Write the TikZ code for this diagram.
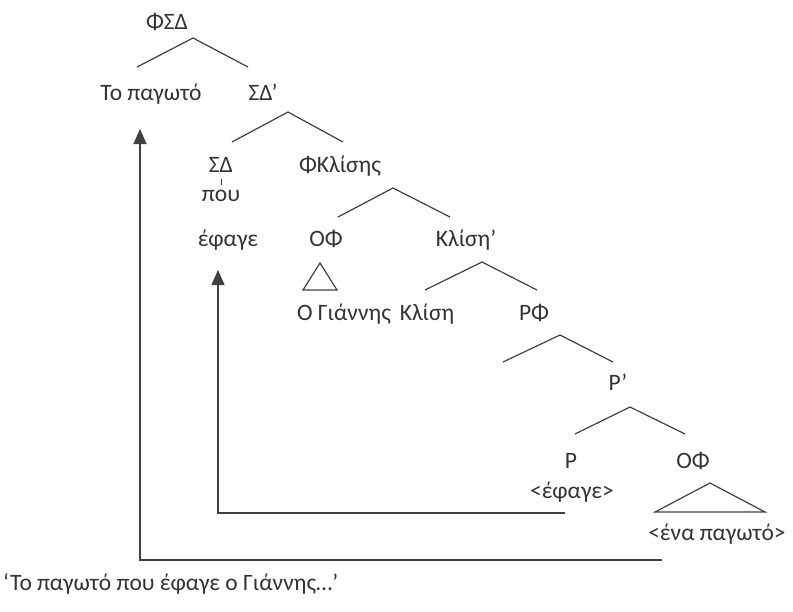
\documentclass[tikz,border=0pt]{standalone}
\usepackage{fontspec}
\setmainfont{Carlito}
\usetikzlibrary{arrows.meta}
\definecolor{ink}{HTML}{333333}
\definecolor{edge}{HTML}{404040}
\begin{document}
\begin{tikzpicture}[x=1pt,y=-1pt,
  lbl/.style={anchor=base,inner sep=0pt,text=ink,font=\fontsize{23.5}{28}\selectfont},
  branch/.style={draw=edge,line width=1.2pt},
  move/.style={draw=edge,line width=1.4pt,-{Triangle[width=13pt,length=15pt]}}]
\useasboundingbox (0,0) rectangle (793,611);

% labels
\node[lbl] (fsd)   at (167,29)  {ΦΣΔ};
\node[lbl] (topag) at (151,100) {Το παγωτό};
\node[lbl] (sdbar) at (263,100) {ΣΔ’};
\node[lbl] (sd)    at (221,172) {ΣΔ};
\node[lbl] (fkl)   at (340,172) {ΦΚλίσης};
\node[lbl] (pou)   at (221,201) {που};
\node[lbl] (efage) at (228,246) {έφαγε};
\node[lbl] (of1)   at (326,246) {ΟΦ};
\node[lbl] (klbar) at (466,246) {Κλίση’};
\node[lbl] (giann) at (344,320) {Ο Γιάννης};
\node[lbl] (kl)    at (427,320) {Κλίση};
\node[lbl] (rf)    at (534,320) {ΡΦ};
\node[lbl] (rbar)  at (618,390) {Ρ’};
\node[lbl] (r)     at (571,468) {Ρ};
\node[lbl] (of2)   at (693,468) {ΟΦ};
\node[lbl] (trv)   at (572,498) {<έφαγε>};
\node[lbl] (tro)   at (717,540) {<ένα παγωτό>};
\node[lbl,anchor=base west] (gloss) at (3,590) {‘Το παγωτό που έφαγε ο Γιάννης…’};

% branch points
\coordinate (a1) at (193,38);  \coordinate (l1) at (137,67);  \coordinate (r1) at (248,67);
\coordinate (a2) at (288,112); \coordinate (l2) at (232,142); \coordinate (r2) at (343,142);
\coordinate (a3) at (393,188); \coordinate (l3) at (338,217); \coordinate (r3) at (450,217);
\coordinate (a4) at (482,262); \coordinate (l4) at (425,290); \coordinate (r4) at (537,290);
\coordinate (a5) at (560,335); \coordinate (l5) at (503,362); \coordinate (r5) at (613,362);
\coordinate (a6) at (630,407); \coordinate (l6) at (575,434); \coordinate (r6) at (685,434);

\draw[branch] (l1) -- (a1) -- (r1);
\draw[branch] (l2) -- (a2) -- (r2);
\draw[branch] (l3) -- (a3) -- (r3);
\draw[branch] (l4) -- (a4) -- (r4);
\draw[branch] (l5) -- (a5) -- (r5);
\draw[branch] (l6) -- (a6) -- (r6);

% short tick from ΣΔ to που
\draw[branch,line width=0.9pt] (221,179) -- (221,185);

% roof triangles
\draw[branch] (320,263) -- (337,290) -- (303,290) -- cycle;
\draw[branch] (710,483) -- (765,512) -- (655,512) -- cycle;

% movement arrows
\coordinate (m1) at (565,513); \coordinate (c1) at (218,513); \coordinate (t1) at (218,270);
\coordinate (m2) at (662,560); \coordinate (c2) at (140,560); \coordinate (t2) at (140,129);
\draw[move] (m1) -- (c1) -- (t1);
\draw[move] (m2) -- (c2) -- (t2);
\end{tikzpicture}
\end{document}
